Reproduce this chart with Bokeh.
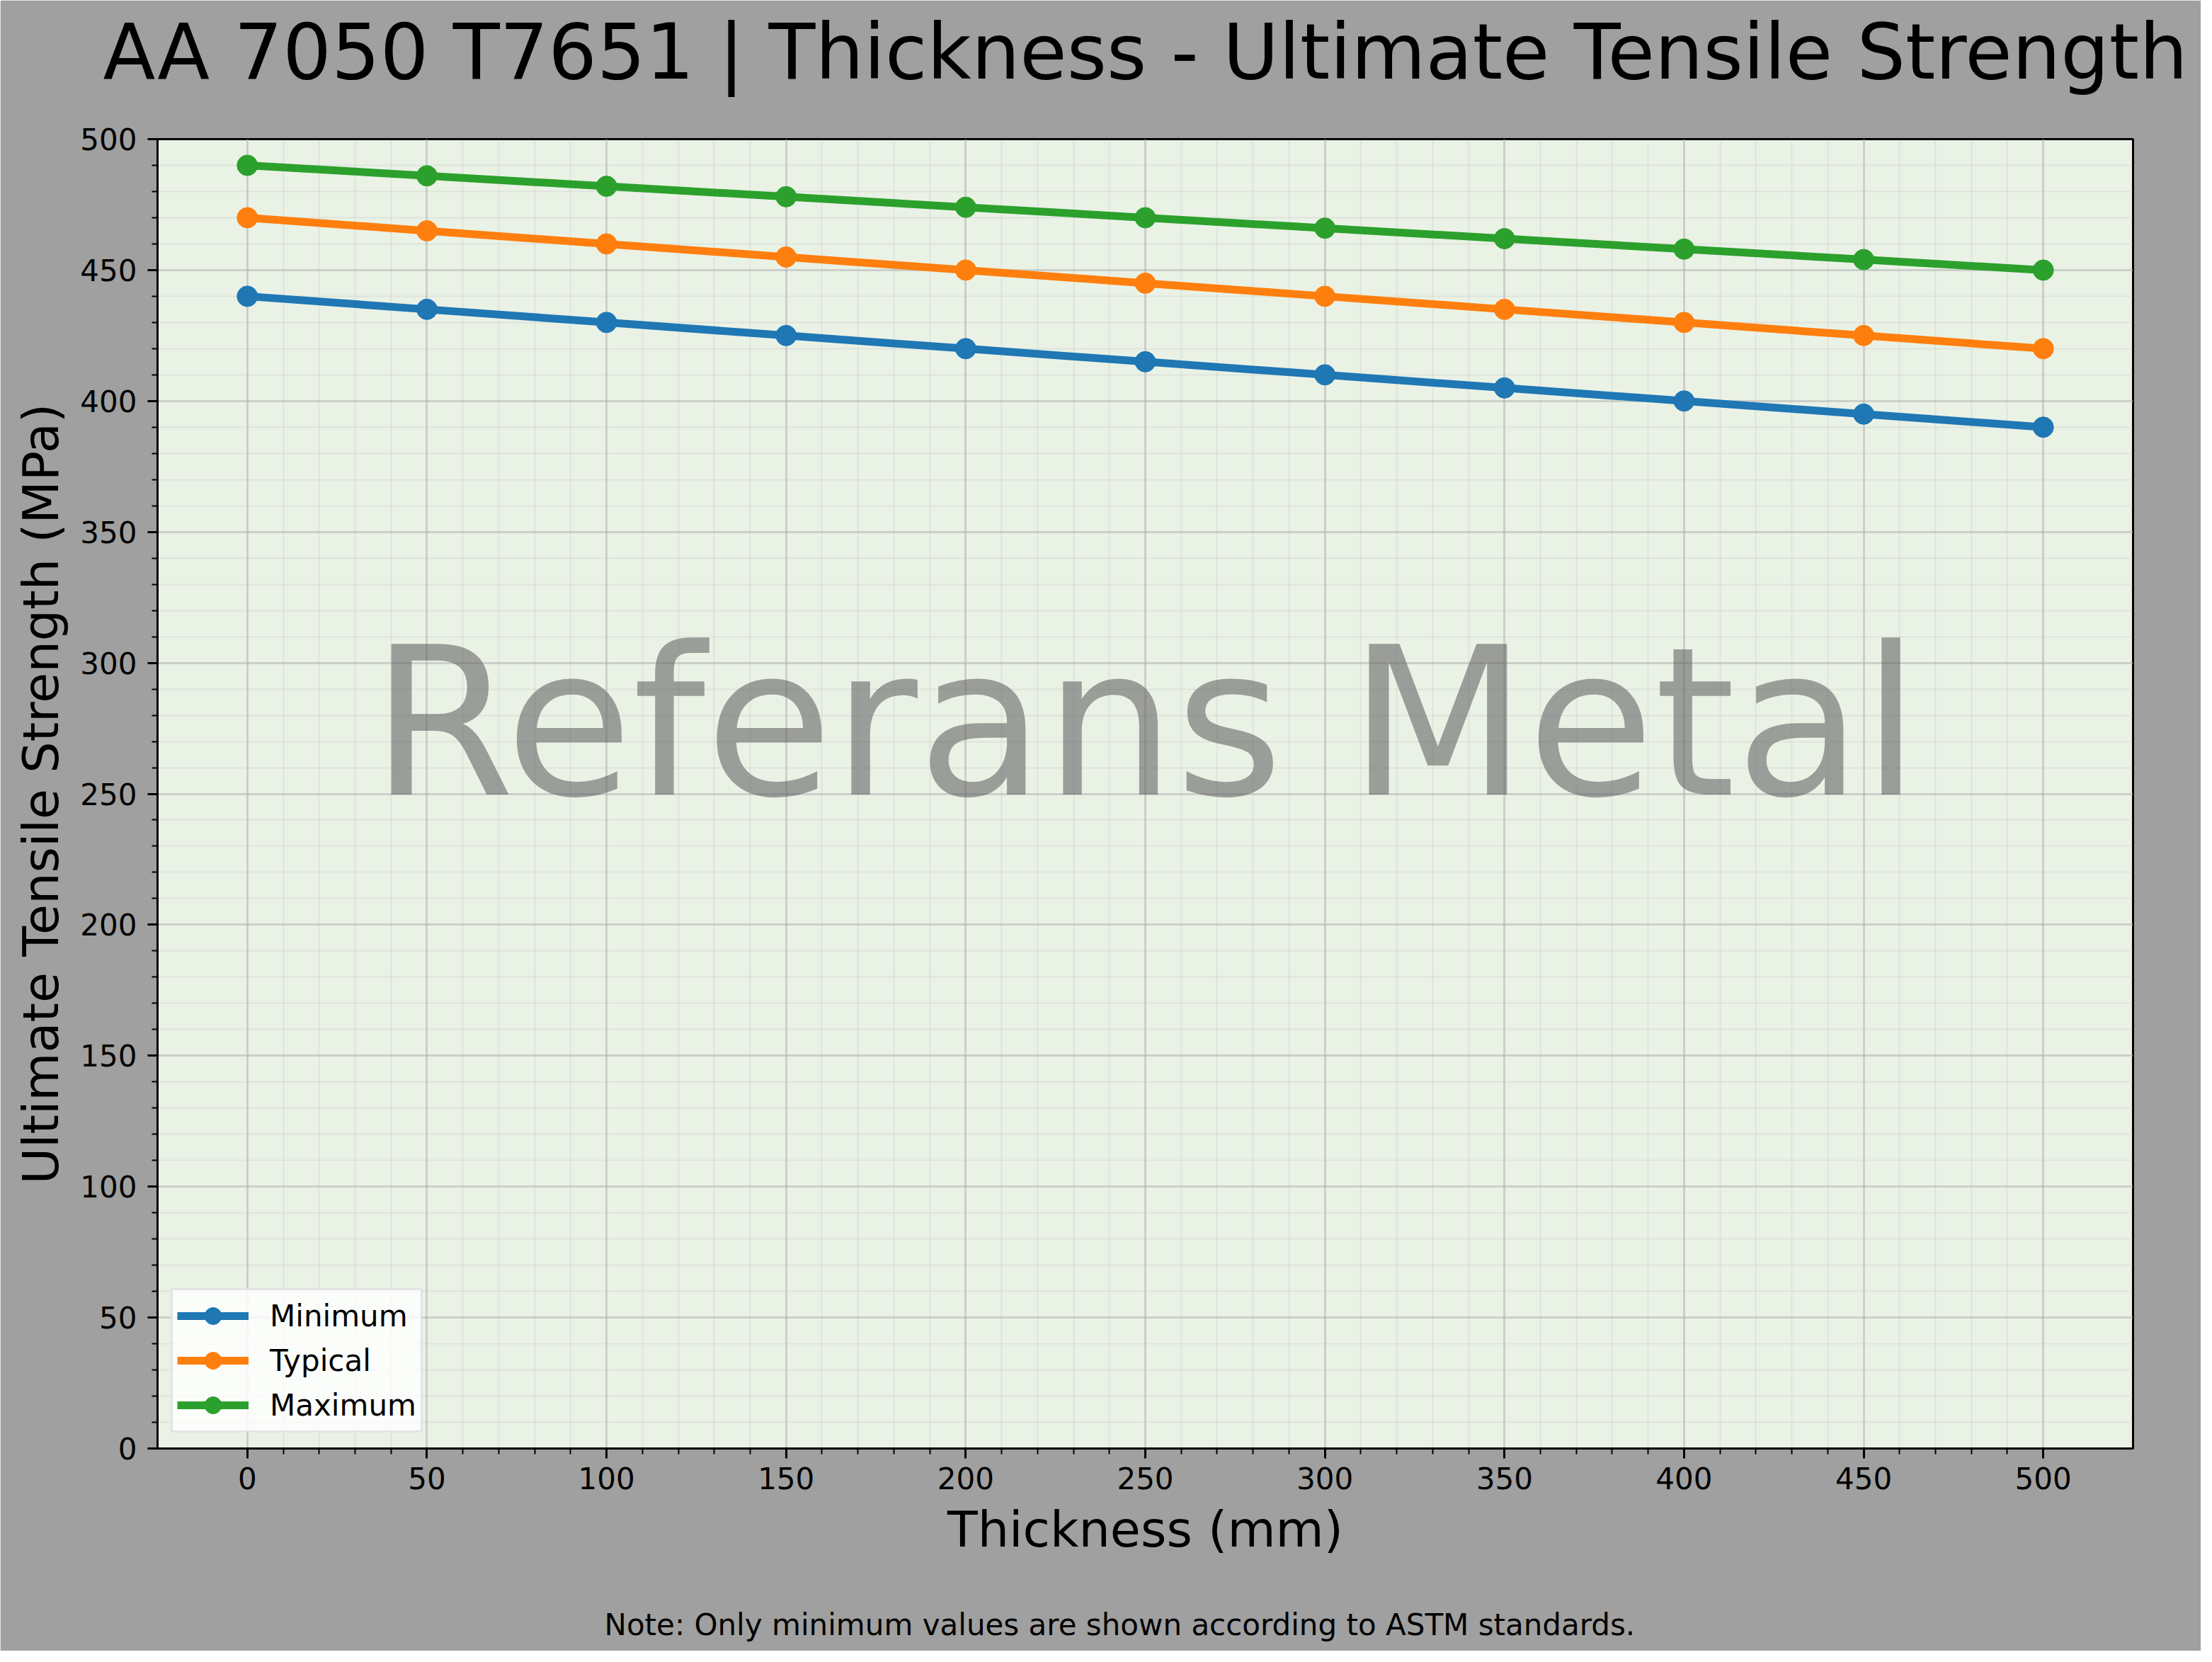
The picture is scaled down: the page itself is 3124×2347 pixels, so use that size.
from bokeh.plotting import figure
from bokeh.models import Range1d, FixedTicker, Label, Title
from bokeh.embed import file_html
from bokeh.resources import INLINE

# data
thickness = [0, 50, 100, 150, 200, 250, 300, 350, 400, 450, 500]
uts_minimum = [440, 435, 430, 425, 420, 415, 410, 405, 400, 395, 390]
uts_typical = [470, 465, 460, 455, 450, 445, 440, 435, 430, 425, 420]
uts_maximum = [490, 486, 482, 478, 474, 470, 466, 462, 458, 454, 450]
series_names = ["Minimum", "Typical", "Maximum"]
series_colors = ["#1f77b4", "#ff7f0e", "#2ca02c"]
y_major = [0, 50, 100, 150, 200, 250, 300, 350, 400, 450, 500]

title_text = "AA 7050 T7651 | Thickness - Ultimate Tensile Strength"
note_text = "Note: Only minimum values are shown according to ASTM standards."
watermark_text = "Referans Metal"
FONT = "DejaVu Sans"

p = figure(width=3108, height=2331, output_backend="svg", toolbar_location=None,
           x_range=Range1d(-25, 525), y_range=Range1d(0, 500),
           min_border_left=222, min_border_right=96, min_border_top=196, min_border_bottom=286,
           background_fill_color="#eaf2e6", border_fill_color="#a0a0a0",
           outline_line_color="black", outline_line_width=3,
           x_axis_label="Thickness (mm)", y_axis_label="Ultimate Tensile Strength (MPa)")

# ticks: majors every 50, minors every 10 (only between the first and last major)
p.xaxis.ticker = FixedTicker(ticks=thickness, minor_ticks=list(range(0, 501, 10)))
p.yaxis.ticker = FixedTicker(ticks=y_major, minor_ticks=list(range(0, 501, 10)))

for ax in p.axis:
    ax.axis_line_width = 3
    ax.major_tick_line_width = 3
    ax.minor_tick_line_width = 2
    ax.major_tick_out = 14
    ax.major_tick_in = 0
    ax.minor_tick_out = 8
    ax.minor_tick_in = 0
    ax.major_label_text_font = FONT
    ax.major_label_text_font_size = "42px"
    ax.major_label_text_color = "black"
    ax.axis_label_text_font = FONT
    ax.axis_label_text_font_size = "70px"
    ax.axis_label_text_font_style = "normal"
    ax.axis_label_text_color = "black"
p.xaxis.major_label_standoff = 12
p.xaxis.axis_label_standoff = 13
p.yaxis.major_label_standoff = 15
p.yaxis.axis_label_standoff = 11

p.grid.grid_line_color = "#b0b0b0"
p.grid.grid_line_alpha = 0.45
p.grid.grid_line_width = 3
p.grid.minor_grid_line_color = "#b0b0b0"
p.grid.minor_grid_line_alpha = 0.2
p.grid.minor_grid_line_width = 2

# watermark in the middle of the axes
p.add_layout(Label(x=250, y=250, y_offset=100, text=watermark_text, text_font=FONT,
                   text_font_size="292px", text_align="center", text_baseline="alphabetic",
                   text_color="#646464", text_alpha=0.6))

for ys, name, color in zip([uts_minimum, uts_typical, uts_maximum], series_names, series_colors):
    p.line(thickness, ys, line_color=color, line_width=11, legend_label=name)
    p.scatter(thickness, ys, size=29, fill_color=color, line_color=color, legend_label=name)

lg = p.legend[0]
lg.location = (19, 22)
lg.label_text_font = FONT
lg.label_text_font_size = "42px"
lg.label_text_color = "black"
lg.glyph_width = 101
lg.glyph_height = 60
lg.label_height = 60
lg.label_standoff = 30
lg.spacing = 3
lg.padding = 6
lg.background_fill_color = "white"
lg.background_fill_alpha = 0.8
lg.border_line_color = "#cccccc"
lg.border_line_width = 3

# title: a blank spacer next to the frame pushes the title up
p.add_layout(Title(text=" ", text_font_size="10px", standoff=48), "above")
p.add_layout(Title(text=title_text, text_font=FONT, text_font_size="108px",
                   text_font_style="normal", text_color="black", align="center",
                   standoff=0), "above")

# footnote below the x axis label, with a blank spacer in between
p.add_layout(Title(text=" ", text_font_size="10px", standoff=53), "below")
p.add_layout(Title(text=note_text, text_font=FONT, text_font_size="42px",
                   text_font_style="normal", text_color="black", align="left",
                   offset=631, standoff=0, vertical_align="top"), "below")

open("out.html", "w").write(file_html(p, INLINE))
